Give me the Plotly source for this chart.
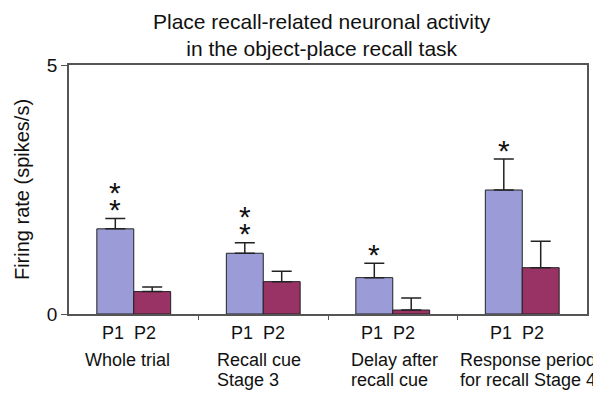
import plotly.graph_objects as go

groups = ["Whole trial", "Recall cue<br>Stage 3", "Delay after<br>recall cue", "Response period<br>for recall Stage 4"]
p1_vals = [1.71, 1.22, 0.73, 2.49]
p1_err = [0.21, 0.21, 0.29, 0.62]
p2_vals = [0.45, 0.65, 0.08, 0.93]
p2_err = [0.09, 0.21, 0.24, 0.53]
stars = [2, 2, 1, 1]
y_ticks = [0, 5]

x = list(range(len(groups)))
FONT = "Liberation Sans, Arial, sans-serif"
TXT = "#111"

fig = go.Figure()
fig.add_bar(x=x, y=p1_vals, name="P1", marker=dict(color="#9b9bd8", line=dict(color="#222", width=1)),
            error_y=dict(type="data", array=p1_err, arrayminus=[0]*4, color="#222", thickness=1.5, width=10))
fig.add_bar(x=x, y=p2_vals, name="P2", marker=dict(color="#993366", line=dict(color="#222", width=1)),
            error_y=dict(type="data", array=p2_err, arrayminus=[0]*4, color="#222", thickness=1.5, width=10))

label_shift = [-51, -48, -44, -64]
ann = []
for i, g in enumerate(groups):
    for name, xs in (("P1", -21), ("P2", 11)):
        ann.append(dict(x=i, y=0, xref="x", yref="y", text=name, showarrow=False, yanchor="top",
                        xshift=xs, yshift=-7, font=dict(size=18, family=FONT, color=TXT)))
    for li, line in enumerate(g.split("<br>")):
        ann.append(dict(x=i, y=0, xref="x", yref="y", text=line, showarrow=False, yanchor="top",
                        xanchor="left", xshift=label_shift[i], yshift=-34 - 20 * li,
                        font=dict(size=18, family=FONT, color=TXT)))
    top = p1_vals[i] + p1_err[i]
    for k in range(stars[i]):
        ann.append(dict(x=i, y=top, xref="x", yref="y", text="*", showarrow=False, yanchor="middle",
                        xshift=-18.5, yshift=9 + 17 * k, font=dict(size=30, family=FONT, color=TXT)))

ann.append(dict(x=0.5, y=1, xref="paper", yref="paper", yanchor="bottom", yshift=3, xshift=-6, showarrow=False,
                text="Place recall-related neuronal activity<br>in the object-place recall task",
                font=dict(size=21, family=FONT, color=TXT)))

# page body adds an 8px margin, so the figure is 8px smaller and shifted
fig.update_layout(
    width=593, height=385,
    margin=dict(l=61, r=14, t=57, b=79),
    paper_bgcolor="white", plot_bgcolor="white",
    barmode="group", bargap=0.43, bargroupgap=0,
    showlegend=False,
    annotations=ann,
    xaxis=dict(range=[-0.5, 3.5], tickvals=[0.5, 1.5, 2.5], ticks="outside", ticklen=4, tickcolor="#555",
               showticklabels=False, showline=True, linecolor="#555", linewidth=1.5, mirror=True,
               showgrid=False, zeroline=False),
    yaxis=dict(range=[0, 5], tickvals=y_ticks, ticks="outside", ticklen=6, tickcolor="#555",
               showline=True, linecolor="#555", linewidth=1.5, mirror=True, showgrid=False, zeroline=False,
               tickfont=dict(size=19, family=FONT, color=TXT),
               title=dict(text="Firing rate (spikes/s)", font=dict(size=20, family=FONT, color=TXT), standoff=12)),
)

fig.write_html("out.html")
